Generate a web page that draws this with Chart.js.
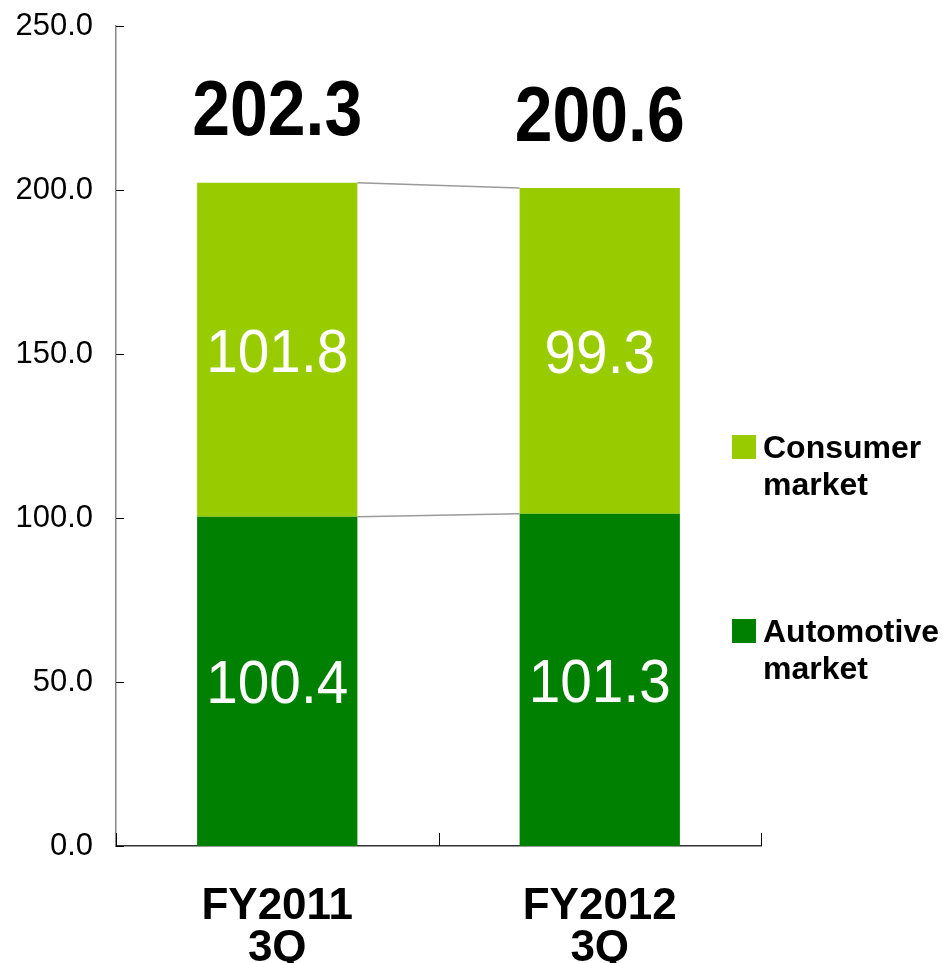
<!DOCTYPE html>
<html>
<head>
<meta charset="utf-8">
<script src="https://cdn.jsdelivr.net/npm/chart.js@4.4.0/dist/chart.umd.min.js"></script>
<style>
html,body{margin:0;padding:0;background:#fff;}
#wrap{width:943px;height:963px;position:relative;}
</style>
</head>
<body>
<div id="wrap"><canvas id="c" width="943" height="963"></canvas></div>
<script>
const categories = [["FY2011", "3Q"], ["FY2012", "3Q"]];
const automotive = [100.4, 101.3];
const consumer = [101.8, 99.3];
const totals = [202.3, 200.6];
const seriesNames = [["Automotive", "market"], ["Consumer", "market"]];
const yTicks = [0, 50, 100, 150, 200, 250];

const FONT = '"Liberation Sans", Arial, sans-serif';
const COLOR_AUTO = '#008000';
const COLOR_CONS = '#99cc00';

const overlay = {
  id: 'overlay',
  afterDatasetsDraw(chart) {
    const ctx = chart.ctx;
    const ys = chart.scales.y;
    ctx.save();
    // connector lines between stacks
    ctx.strokeStyle = '#9a9a9a';
    ctx.lineWidth = 1.5;
    chart.data.datasets.forEach((ds, di) => {
      const bars = chart.getDatasetMeta(di).data;
      for (let i = 0; i < bars.length - 1; i++) {
        const a = bars[i], b = bars[i + 1];
        ctx.beginPath();
        ctx.moveTo(a.x + a.width / 2, a.y);
        ctx.lineTo(b.x - b.width / 2, b.y);
        ctx.stroke();
      }
    });
    // inner value labels
    ctx.fillStyle = '#fff';
    ctx.textAlign = 'center';
    ctx.textBaseline = 'alphabetic';
    const fs = 61;
    ctx.font = 'normal ' + fs + 'px ' + FONT;
    chart.data.datasets.forEach((ds, di) => {
      const bars = chart.getDatasetMeta(di).data;
      bars.forEach((bar, i) => {
        const cy = (bar.y + bar.base) / 2;
        ctx.save();
        ctx.translate(bar.x, cy + 0.358 * fs);
        ctx.scale(0.93, 1);
        ctx.fillText(ds.data[i].toFixed(1), 0, 0);
        ctx.restore();
      });
    });
    // totals
    ctx.fillStyle = '#000';
    const tf = 78;
    ctx.font = 'bold ' + tf + 'px ' + FONT;
    const topMeta = chart.getDatasetMeta(chart.data.datasets.length - 1).data;
    topMeta.forEach((bar, i) => {
      const yTop = ys.getPixelForValue(totals[i]);
      ctx.save();
      ctx.translate(bar.x, yTop - 47);
      ctx.scale(0.87, 1);
      ctx.fillText(totals[i].toFixed(1), 0, 0);
      ctx.restore();
    });
    ctx.restore();
  },
  afterDraw(chart) {
    const ctx = chart.ctx;
    const area = chart.chartArea;
    const ys = chart.scales.y;
    ctx.save();
    // y axis inside ticks
    ctx.strokeStyle = '#000';
    ctx.lineWidth = 1;
    yTicks.forEach(v => {
      const y = Math.round(ys.getPixelForValue(v)) + 0.5;
      ctx.beginPath();
      ctx.moveTo(area.left, y);
      ctx.lineTo(area.left + 8, y);
      ctx.stroke();
    });
    // x axis boundary ticks (upward)
    const n = categories.length;
    for (let i = 0; i <= n; i++) {
      const x = Math.round(area.left + (area.right - area.left) * i / n) + 0.5;
      ctx.beginPath();
      ctx.moveTo(x, area.bottom);
      ctx.lineTo(x, area.bottom - 13);
      ctx.stroke();
    }
    // legend (top series first)
    const lx = area.right - 29;
    const entries = [
      {name: seriesNames[1], color: COLOR_CONS, y: 435},
      {name: seriesNames[0], color: COLOR_AUTO, y: 619}
    ];
    ctx.font = 'bold 32px ' + FONT;
    ctx.textAlign = 'left';
    ctx.textBaseline = 'alphabetic';
    entries.forEach(e => {
      ctx.fillStyle = e.color;
      ctx.fillRect(lx, e.y, 24, 24);
      ctx.fillStyle = '#000';
      e.name.forEach((line, li) => {
        ctx.fillText(line, lx + 31, e.y + 23 + li * 37);
      });
    });
    ctx.restore();
  }
};

new Chart(document.getElementById('c'), {
  type: 'bar',
  data: {
    labels: categories,
    datasets: [
      {label: seriesNames[0].join(' '), data: automotive, backgroundColor: COLOR_AUTO, stack: 's'},
      {label: seriesNames[1].join(' '), data: consumer, backgroundColor: COLOR_CONS, stack: 's'}
    ]
  },
  options: {
    responsive: false,
    animation: false,
    devicePixelRatio: 1,
    layout: {padding: {top: 26, right: 182, left: 0, bottom: 0}},
    plugins: {legend: {display: false}, tooltip: {enabled: false}},
    datasets: {bar: {categoryPercentage: 1, barPercentage: 0.497}},
    scales: {
      x: {
        stacked: true,
        grid: {display: false, drawTicks: false},
        border: {display: true, color: '#333', width: 1.5},
        ticks: {
          color: '#000',
          font: {family: FONT, size: 44, weight: 'bold', lineHeight: 0.95},
          padding: 40,
          maxRotation: 0
        },
        afterFit(s) { s.height = 117; s.paddingLeft = 0; s.paddingRight = 0; }
      },
      y: {
        stacked: true,
        min: 0, max: 250,
        grid: {display: false, drawTicks: false},
        border: {display: true, color: '#888', width: 1.5},
        ticks: {
          stepSize: 50,
          color: '#000',
          font: {family: FONT, size: 31, weight: 'normal'},
          padding: 23,
          callback: v => Number(v).toFixed(1)
        },
        afterFit(s) { s.width = 116; s.paddingTop = 0; s.paddingBottom = 0; }
      }
    }
  },
  plugins: [overlay]
});
</script>
</body>
</html>
